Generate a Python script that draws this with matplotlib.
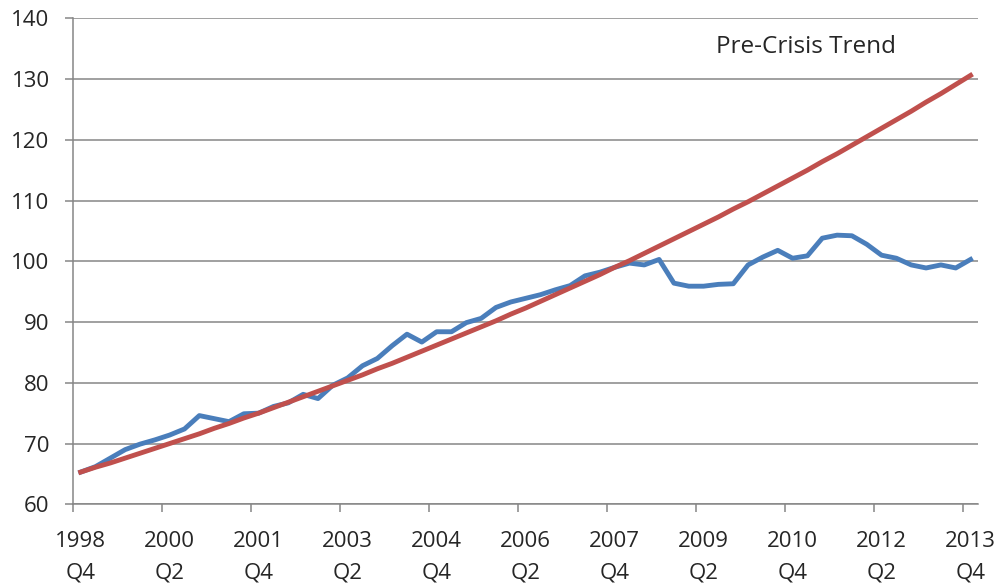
import matplotlib
matplotlib.use("Agg")
import matplotlib.pyplot as plt
from matplotlib.ticker import FixedLocator, NullFormatter, FixedFormatter

plt.rcParams['font.family'] = ['Open Sans', 'DejaVu Sans']

# Quarterly index, 1998 Q4 .. 2013 Q4 (61 quarters)
actual = [65.3, 66.2, 67.6, 69.0, 69.9, 70.6, 71.4, 72.4, 74.6, 74.1,
          73.6, 74.9, 75.0, 76.1, 76.7, 78.1, 77.4, 79.6, 80.8, 82.8,
          84.0, 86.1, 88.0, 86.7, 88.4, 88.4, 89.9, 90.6, 92.4, 93.3,
          93.9, 94.5, 95.3, 96.0, 97.6, 98.2, 99.0, 99.7, 99.4, 100.3,
          96.4, 95.9, 95.9, 96.2, 96.3, 99.4, 100.7, 101.8, 100.5, 100.9,
          103.8, 104.3, 104.2, 102.8, 101.0, 100.5, 99.4, 98.9, 99.4, 98.9,
          100.3]

pre_crisis_trend = [65.3, 66.1, 66.8, 67.6, 68.4, 69.2, 70.0, 70.8, 71.6, 72.5,
                    73.3, 74.2, 75.0, 75.9, 76.8, 77.7, 78.6, 79.5, 80.4, 81.3,
                    82.3, 83.2, 84.2, 85.2, 86.2, 87.2, 88.2, 89.2, 90.2, 91.3,
                    92.3, 93.4, 94.5, 95.6, 96.7, 97.8, 99.0, 100.1, 101.3, 102.5,
                    103.7, 104.9, 106.1, 107.3, 108.6, 109.8, 111.1, 112.4, 113.7, 115.0,
                    116.4, 117.7, 119.1, 120.5, 121.9, 123.3, 124.7, 126.2, 127.6, 129.1,
                    130.6]

tick_labels = ["1998\nQ4", "2000\nQ2", "2001\nQ4", "2003\nQ2", "2004\nQ4", "2006\nQ2",
               "2007\nQ4", "2009\nQ2", "2010\nQ4", "2012\nQ2", "2013\nQ4"]
y_ticks = [60, 70, 80, 90, 100, 110, 120, 130, 140]

grid_col = '#868686'
text_col = '#262626'

fig = plt.figure(figsize=(10.01, 5.84), dpi=100)
ax = fig.add_axes([0.0732, 0.1365, 0.9038, 0.8322])

xs = list(range(len(actual)))
ax.plot(xs, actual, color='#4A7EBB', lw=3.5, solid_joinstyle='round', zorder=3)
ax.plot(xs, pre_crisis_trend, color='#C0504D', lw=3.5, solid_joinstyle='round', zorder=4)

ax.set_xlim(-0.5, len(actual) - 0.5)
ax.set_ylim(y_ticks[0], y_ticks[-1])

# y axis
ax.set_yticks(y_ticks)
ax.yaxis.grid(True, color=grid_col, lw=1.1)
ax.set_axisbelow(True)

# x axis: tick marks on category boundaries, labels on category centres
label_pos = [6 * k for k in range(len(tick_labels))]
ax.xaxis.set_major_locator(FixedLocator([p - 0.5 for p in label_pos]))
ax.xaxis.set_major_formatter(NullFormatter())
ax.xaxis.set_minor_locator(FixedLocator(label_pos))
ax.xaxis.set_minor_formatter(FixedFormatter(tick_labels))

for side in ('top', 'right'):
    ax.spines[side].set_visible(False)
for side in ('left', 'bottom'):
    ax.spines[side].set_color(grid_col)
    ax.spines[side].set_linewidth(1.1)

ax.tick_params(axis='both', which='major', direction='out', length=6, width=1.1,
               color=grid_col, labelcolor=text_col, labelsize=16)
ax.tick_params(axis='y', which='major', pad=11)
ax.tick_params(axis='x', which='minor', length=0, pad=19.5, labelcolor=text_col,
               labelsize=16)
for lbl in ax.xaxis.get_minorticklabels():
    lbl.set_linespacing(1.62)

ax.text(0.81, 0.941, "Pre-Crisis Trend", transform=ax.transAxes, ha='center',
        va='center', fontsize=17.5, color=text_col)

fig.savefig("out.png", dpi=100)
